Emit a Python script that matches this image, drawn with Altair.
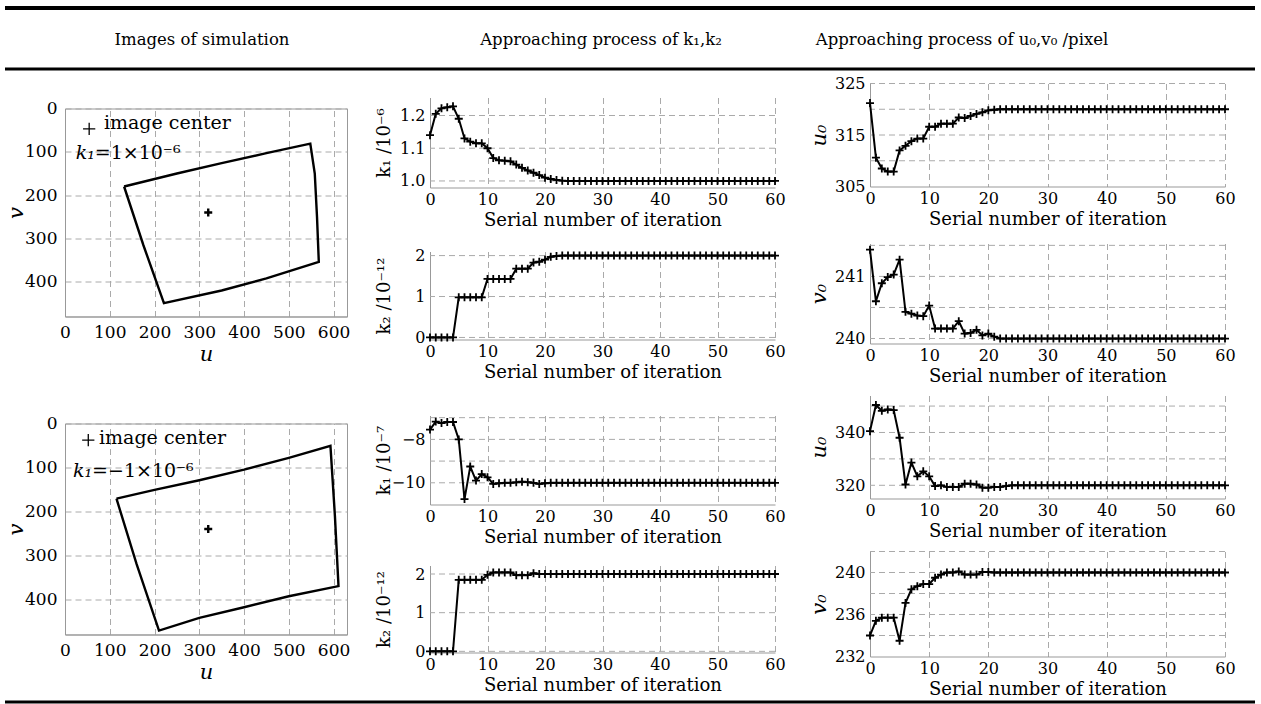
import altair as alt
import pandas as pd

FONT = "DejaVu Serif"
CROSS = "M-1,0L1,0M0,-1L0,1"
GRID = "#aaa"

iters = list(range(61))

# ---- approaching process values ----
k1_pos = [1.14, 1.205, 1.222, 1.225, 1.228, 1.19, 1.13, 1.12, 1.115, 1.115,
          1.10, 1.07, 1.063, 1.062, 1.06, 1.05, 1.04, 1.032, 1.025, 1.018,
          1.01, 1.006, 1.003, 1.001, 1.0, 1.0, 1.0, 1.0, 1.0, 1.0,
          1.0, 1.0, 1.0, 1.0, 1.0, 1.0, 1.0, 1.0, 1.0, 1.0,
          1.0, 1.0, 1.0, 1.0, 1.0, 1.0, 1.0, 1.0, 1.0, 1.0,
          1.0, 1.0, 1.0, 1.0, 1.0, 1.0, 1.0, 1.0, 1.0, 1.0,
          1.0]
k2_pos = [0, 0, 0, 0, 0, 0.98, 0.98, 0.98, 0.98, 0.98,
          1.43, 1.43, 1.43, 1.43, 1.43, 1.68, 1.68, 1.68, 1.83, 1.85,
          1.9, 1.97, 1.99, 2, 2, 2, 2, 2, 2, 2,
          2, 2, 2, 2, 2, 2, 2, 2, 2, 2,
          2, 2, 2, 2, 2, 2, 2, 2, 2, 2,
          2, 2, 2, 2, 2, 2, 2, 2, 2, 2,
          2]
k1_neg = [-7.55, -7.18, -7.25, -7.2, -7.2, -8.0, -10.75, -9.25, -9.9, -9.6,
          -9.75, -10.05, -10.02, -10.0, -10.0, -9.98, -9.95, -9.97, -10.0, -10.05,
          -10.02, -10, -10, -10, -10, -10, -10, -10, -10, -10,
          -10, -10, -10, -10, -10, -10, -10, -10, -10, -10,
          -10, -10, -10, -10, -10, -10, -10, -10, -10, -10,
          -10, -10, -10, -10, -10, -10, -10, -10, -10, -10,
          -10]
k2_neg = [0, 0, 0, 0, 0, 1.85, 1.85, 1.85, 1.85, 1.85,
          1.98, 2.04, 2.04, 2.04, 2.04, 1.97, 1.97, 1.97, 2.02, 2.0,
          2, 2, 2, 2, 2, 2, 2, 2, 2, 2,
          2, 2, 2, 2, 2, 2, 2, 2, 2, 2,
          2, 2, 2, 2, 2, 2, 2, 2, 2, 2,
          2, 2, 2, 2, 2, 2, 2, 2, 2, 2,
          2]
u0_pos = [321.2, 310.6, 308.5, 307.9, 307.9, 312.0, 312.9, 313.8, 314.3, 314.3,
          316.6, 316.6, 317.2, 317.2, 317.2, 318.4, 318.3, 318.7, 319.1, 319.4,
          319.8, 319.9, 320, 320, 320, 320, 320, 320, 320, 320,
          320, 320, 320, 320, 320, 320, 320, 320, 320, 320,
          320, 320, 320, 320, 320, 320, 320, 320, 320, 320,
          320, 320, 320, 320, 320, 320, 320, 320, 320, 320,
          320]
v0_pos = [241.43, 240.6, 240.89, 240.99, 241.03, 241.27, 240.43, 240.4, 240.37, 240.36,
          240.53, 240.16, 240.16, 240.16, 240.16, 240.28, 240.08, 240.09, 240.14, 240.05,
          240.08, 240.03, 240, 240, 240, 240, 240, 240, 240, 240,
          240, 240, 240, 240, 240, 240, 240, 240, 240, 240,
          240, 240, 240, 240, 240, 240, 240, 240, 240, 240,
          240, 240, 240, 240, 240, 240, 240, 240, 240, 240,
          240]
u0_neg = [340.5, 350.4, 348.2, 348.7, 348.5, 338.0, 320.3, 328.6, 323.4, 325.3,
          323.4, 319.7, 320.0, 319.4, 319.4, 319.4, 320.6, 320.6, 320.3, 319.1,
          319.1, 319.4, 319.4, 319.7, 320, 320, 320, 320, 320, 320,
          320, 320, 320, 320, 320, 320, 320, 320, 320, 320,
          320, 320, 320, 320, 320, 320, 320, 320, 320, 320,
          320, 320, 320, 320, 320, 320, 320, 320, 320, 320,
          320]
v0_neg = [234.0, 235.4, 235.7, 235.7, 235.7, 233.5, 237.1, 238.4, 238.7, 238.9,
          238.9, 239.5, 239.8, 240.0, 240.0, 240.1, 239.8, 239.8, 239.8, 240.05,
          240.05, 240, 240, 240, 240, 240, 240, 240, 240, 240,
          240, 240, 240, 240, 240, 240, 240, 240, 240, 240,
          240, 240, 240, 240, 240, 240, 240, 240, 240, 240,
          240, 240, 240, 240, 240, 240, 240, 240, 240, 240,
          240]

# ---- simulated distorted image outlines (u, v) ----
quad1_u = [132, 250, 350, 450, 548, 558, 563, 567, 450, 350, 221, 175, 132]
quad1_v = [180, 150, 126, 103, 81, 150, 250, 354, 392, 420, 449, 315, 180]
quad2_u = [115, 200, 300, 400, 500, 593, 603, 611, 500, 400, 300, 210, 160, 115]
quad2_v = [171, 151, 129, 105, 78, 51, 210, 370, 393, 418, 442, 471, 320, 171]
center_u, center_v = [320], [240]

headers = ["Images of simulation", "Approaching process of k\u2081,k\u2082",
           "Approaching process of u\u2080,v\u2080 /pixel"]

axis_common = dict(labelFlush=False, labelOverlap=False, labelBound=False)


def spacer(w, h):
    return (alt.Chart(pd.DataFrame({"s": [0]}))
            .mark_point(opacity=0)
            .encode(x=alt.value(0), y=alt.value(0))
            .properties(width=w, height=h))


def series(values, ydom, grid_vals, label_vals, ytitle, w, h, italic=False, fmt=None):
    df = pd.DataFrame({"it": iters, "val": values})
    if italic:
        yax = dict(titleFontStyle="italic", titleFontSize=21, minExtent=38,
                   maxExtent=38, titlePadding=2.5)
    else:
        yax = dict(titleFontSize=18, minExtent=35, maxExtent=35, titlePadding=2)
    yax.update(values=label_vals, title=ytitle, labelPadding=5, grid=False,
               **axis_common)
    if fmt:
        yax["format"] = fmt
    ysc = alt.Scale(domain=ydom, nice=False, zero=False)
    yaxis = alt.Axis(**yax)
    x = alt.X("it:Q", scale=alt.Scale(domain=[0, 60], nice=False, zero=False),
              axis=alt.Axis(values=list(range(0, 61, 10)),
                            title="Serial number of iteration", titleFontSize=18,
                            labelPadding=4, titlePadding=4, **axis_common))
    gdf = pd.DataFrame({"g": grid_vals})
    grid = alt.Chart(gdf).mark_rule(color=GRID, strokeDash=[6, 4], strokeWidth=1).encode(
        y=alt.Y("g:Q", scale=ysc, axis=yaxis))
    base = alt.Chart(df)
    line = base.mark_line(color="black", strokeWidth=2).encode(
        x=x, y=alt.Y("val:Q", scale=ysc, axis=yaxis))
    pts = base.mark_point(shape=CROSS, size=64, color="black", filled=False,
                          opacity=1, strokeWidth=1.8).encode(
        x=x, y=alt.Y("val:Q", scale=ysc, axis=yaxis))
    return alt.layer(grid, line, pts).properties(width=w, height=h)


def sim(qu, qv, ktext, h, plus_uv, txt_uv, k_uv):
    df = pd.DataFrame({"u": qu, "v": qv, "o": list(range(len(qu)))})
    xs = alt.Scale(domain=[0, 630], nice=False, zero=False)
    ys = alt.Scale(domain=[0, 480], nice=False, zero=False, reverse=True)
    x = alt.X("u:Q", scale=xs,
              axis=alt.Axis(values=[0, 100, 200, 300, 400, 500, 600], title="u",
                            titleFontStyle="italic", titleFontSize=21,
                            labelFontSize=17, labelPadding=8, titlePadding=3,
                            **axis_common))
    y = alt.Y("v:Q", scale=ys,
              axis=alt.Axis(values=[0, 100, 200, 300, 400], title="v",
                            titleFontStyle="italic", titleFontSize=21,
                            labelFontSize=17, labelPadding=8, minExtent=35,
                            maxExtent=35, titlePadding=4, **axis_common))
    outline = alt.Chart(df).mark_line(color="black", strokeWidth=2.4).encode(
        x=x, y=y, order="o:Q")
    cdf = pd.DataFrame({"u": center_u, "v": center_v})
    center = alt.Chart(cdf).mark_point(shape=CROSS, size=64, color="black",
                                       filled=False, opacity=1,
                                       strokeWidth=2.4).encode(x="u:Q", y="v:Q")
    pdf = pd.DataFrame({"u": [plus_uv[0]], "v": [plus_uv[1]]})
    plus = alt.Chart(pdf).mark_point(shape=CROSS, size=150, color="black",
                                     filled=False, opacity=1,
                                     strokeWidth=1.3).encode(x="u:Q", y="v:Q")
    tdf = pd.DataFrame({"u": [txt_uv[0]], "v": [txt_uv[1]], "t": ["image center"]})
    txt = alt.Chart(tdf).mark_text(align="left", baseline="middle", fontSize=19,
                                   font=FONT).encode(x="u:Q", y="v:Q", text="t:N")
    kdf = pd.DataFrame({"u": [k_uv[0]], "v": [k_uv[1]], "a": ["k\u2081"], "b": [ktext]})
    ka = alt.Chart(kdf).mark_text(align="left", baseline="middle", fontSize=19,
                                  font=FONT, fontStyle="italic").encode(
        x="u:Q", y="v:Q", text="a:N")
    kb = alt.Chart(kdf).mark_text(align="left", baseline="middle", fontSize=19,
                                  font=FONT, dx=19).encode(
        x="u:Q", y="v:Q", text="b:N")
    return alt.layer(outline, center, plus, txt, ka, kb).properties(
        width=282, height=h, view=alt.ViewBackground(stroke="#999"))


# ---- header (table rules + column headings); origin = first plot's left edge ----
one = pd.DataFrame({"r": [0]})
top_rule = alt.Chart(one).mark_rule(color="black", strokeWidth=4).encode(
    x=alt.value(-60), x2=alt.value(1190), y=alt.value(0))
mid_rule = alt.Chart(one).mark_rule(color="black", strokeWidth=3).encode(
    x=alt.value(-60), x2=alt.value(1190), y=alt.value(61))
htexts = [
    alt.Chart(one).mark_text(fontSize=16.5, font=FONT, baseline="middle").encode(
        x=alt.value(hx), y=alt.value(32), text=alt.value(t))
    for t, hx in zip(headers, [137, 536, 897])
]
header = alt.layer(top_rule, mid_rule, *htexts).properties(width=1000, height=61)

footer = alt.Chart(one).mark_rule(color="black", strokeWidth=3).encode(
    x=alt.value(-60), x2=alt.value(1190), y=alt.value(0)).properties(width=1000, height=1)

# ---- columns ----
p1 = sim(quad1_u, quad1_v, "=1\u00d710\u207b\u2076", 208, (54, 47), (87, 33), (24, 102))
p2 = sim(quad2_u, quad2_v, "=\u22121\u00d710\u207b\u2076", 211, (52, 38), (76, 32), (18, 108))
col1 = alt.vconcat(spacer(1, 33), p1, spacer(1, 107), p2, spacing=0, bounds="flush")

m1 = series(k1_pos, [0.98, 1.255], [1.0, 1.1, 1.2], [1.0, 1.1, 1.2],
            "k\u2081 /10\u207b\u2076", 345, 90, fmt=".1f")
m2 = series(k2_pos, [-0.05, 2.1], [0, 1, 2], [0, 1, 2],
            "k\u2082 /10\u207b\u00b9\u00b2", 345, 88)
m3 = series(k1_neg, [-11, -6.9], [-10, -9, -8, -7], [-10, -8],
            "k\u2081 /10\u207b\u2077", 345, 89)
m4 = series(k2_neg, [-0.03, 2.22], [0, 1, 2], [0, 1, 2],
            "k\u2082 /10\u207b\u00b9\u00b2", 345, 87)
col2 = alt.vconcat(spacer(1, 22), m1, spacer(1, 64), m2, spacer(1, 76), m3,
                   spacer(1, 61), m4, spacing=0, bounds="flush")

r1 = series(u0_pos, [305, 325], [310, 315, 320, 325], [305, 315, 325],
            "u\u2080", 355, 103, italic=True)
r2 = series(v0_pos, [239.92, 241.53], [240, 240.5, 241, 241.5], [240, 241],
            "v\u2080", 355, 100, italic=True, fmt=".0f")
r3 = series(u0_neg, [315, 354], [320, 330, 340, 350], [320, 340],
            "u\u2080", 355, 103, italic=True)
r4 = series(v0_neg, [232, 242], [234, 236, 238, 240, 242], [232, 236, 240],
            "v\u2080", 355, 105, italic=True)
col3 = alt.vconcat(spacer(1, 8), r1, spacer(1, 57), r2, spacer(1, 52), r3,
                   spacer(1, 53), r4, spacing=0, bounds="flush")

body = alt.hconcat(col1, alt.hconcat(col2, col3, spacing=22), spacing=24)

chart = alt.vconcat(header, alt.vconcat(body, footer, spacing=1.5), spacing=1.5)

chart = (chart
         .properties(padding={"left": 3, "top": 6, "right": 1, "bottom": 1},
                     background="white")
         .configure_view(stroke=None)
         .configure_axis(labelFont=FONT, titleFont=FONT, labelFontSize=16,
                         titleFontSize=18, titleFontWeight="normal",
                         gridColor=GRID, gridDash=[6, 4], gridWidth=1,
                         domainColor="#999", ticks=False, labelColor="black",
                         titleColor="black"))

chart.save("out.html", embed_options={"renderer": "svg", "actions": False})
